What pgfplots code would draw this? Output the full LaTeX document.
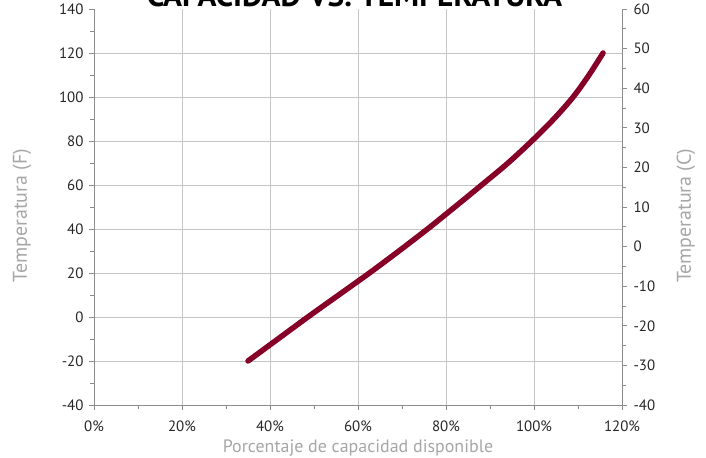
\documentclass[border=0pt]{standalone}
\usepackage{pgfplots}
\pgfplotsset{compat=1.18}
\usepackage{fontspec}
\setmainfont{PT Sans}
\definecolor{curve}{HTML}{870027}
\definecolor{gridc}{HTML}{C4C4C4}
\definecolor{axisc}{HTML}{8C8C8C}
\definecolor{labc}{HTML}{A6A6A6}
\definecolor{tickc}{HTML}{262626}

\begin{document}
\begin{tikzpicture}
\pgfplotsset{
  base/.style={
    scale only axis, width=528bp, height=396bp,
    xmin=0, xmax=120,
    /pgf/number format/assume math mode=true,
    tick label style={font=\fontsize{15}{17}\selectfont, text=tickc},
    label style={font=\fontsize{18}{21}\selectfont, text=labc},
    ylabel style={font=\fontsize{20}{23}\selectfont},
    axis line style={axisc, line width=0.8bp},
    tick style={axisc, line width=0.6bp},
    major tick length=5bp, minor tick length=4bp,
    tick align=outside,
  }
}
% left axis: Fahrenheit
\begin{axis}[base,
  ymin=-40, ymax=140,
  axis x line*=bottom, axis y line*=left,
  xtick={0,20,...,120}, minor xtick={10,30,...,110},
  xticklabel={\pgfmathprintnumber{\tick}\%},
  x tick label style={yshift=-7bp},
  y tick label style={xshift=-2bp},
  ytick={-40,-20,...,120}, minor ytick={-30,-10,...,130},
  extra y ticks={140}, extra y tick style={grid=none},
  grid=major, major grid style={gridc, line width=0.8bp},
  xlabel={Porcentaje de capacidad disponible},
  xlabel style={at={(axis description cs:0.5,0)}, anchor=center, yshift=-43bp},
  ylabel={Temperatura (F)},
  ylabel style={at={([xshift=-72bp]axis description cs:0,0.478)}, anchor=center},
]
\addplot[curve, line width=5.5bp, smooth, line cap=round] coordinates {
  (35,-20) (41.8,-10) (48.6,0) (55.6,10) (62.6,20) (69.3,30)
  (75.8,40) (82,50) (88.1,60) (94.1,70) (99.5,80) (104.5,90)
  (108.9,100) (112.5,110) (115.7,120)
};
\end{axis}
% right axis: Celsius
\begin{axis}[base,
  ymin=-40, ymax=60,
  axis x line=none, axis y line*=right,
  ytick={-40,-30,...,60}, minor ytick={-35,-25,...,55},
  y tick label style={xshift=3bp},
  ylabel={Temperatura (C)},
  ylabel style={at={([xshift=64bp]axis description cs:1,0.478)}, anchor=center},
]
\end{axis}
\node[font=\fontsize{31.5}{36}\selectfont\bfseries, anchor=base] at (260.5bp,398bp) {CAPACIDAD VS. TEMPERATURA};
\pgfresetboundingbox
\useasboundingbox (-94bp,-53bp) rectangle (612bp,405bp);
\end{tikzpicture}
\end{document}
